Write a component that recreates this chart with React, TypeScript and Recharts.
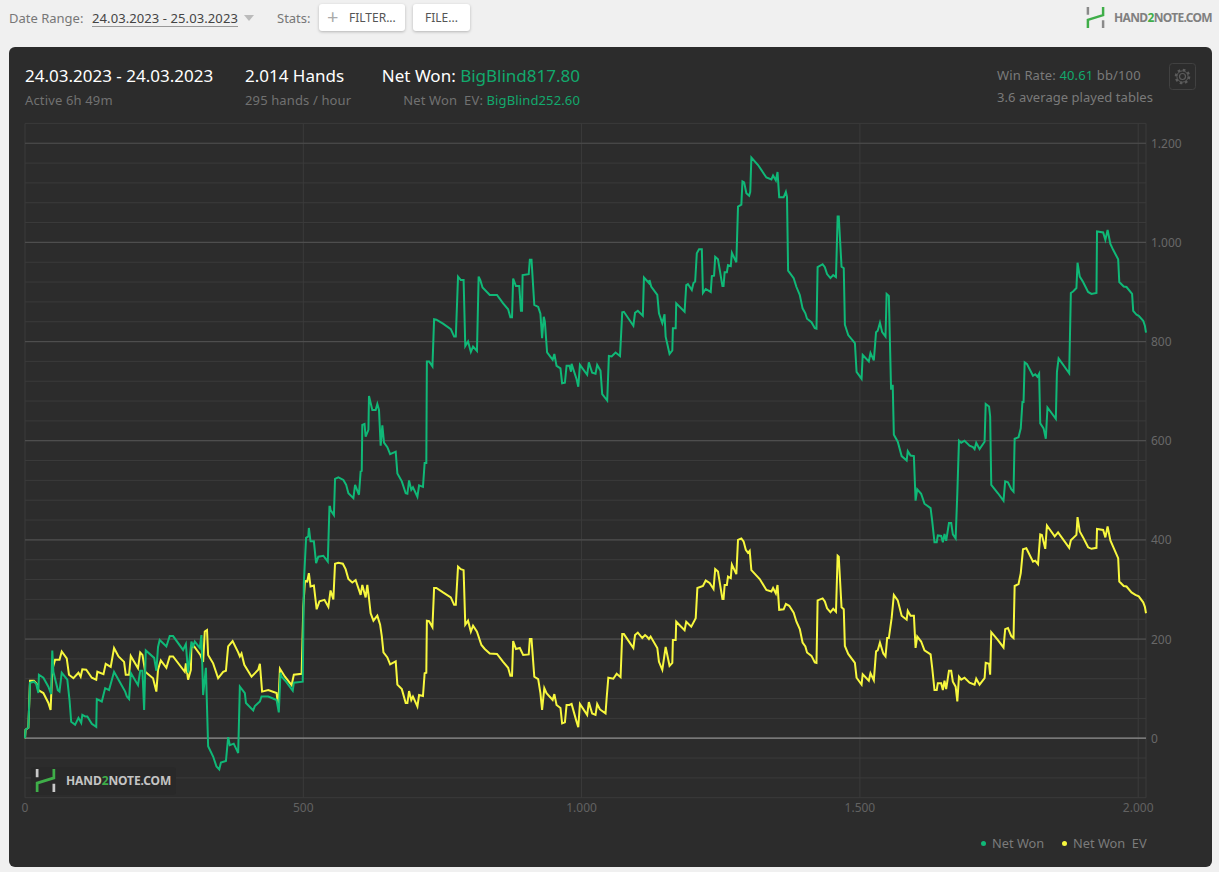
import React from "react";
import { LineChart, Line, XAxis, YAxis, CartesianGrid, ReferenceLine, Legend } from "recharts";

const netWonPoints: number[][] = [
[0,0],[1,17],[6,21],[9,112],[16,114],[20,110],[24,91],[25,128],[33,122],[42,104],[47,89],[49,177],[51,134],[59,97],[62,94],[66,132],[76,118],[80,77],[83,33],[90,27],[96,41],[101,31],[103,47],[108,44],[112,44],[120,29],[128,23],[129,79],[138,74],[144,101],[151,97],[160,134],[168,118],[180,94],[183,84],[187,79],[190,132],[203,107],[207,136],[211,136],[214,57],[217,177],[232,162],[236,136],[239,184],[242,198],[254,185],[260,206],[266,206],[284,178],[289,190],[293,132],[299,195],[302,185],[305,195],[314,182],[317,208],[320,87],[325,142],[329,-16],[338,-37],[344,-57],[349,-63],[352,-49],[361,-46],[365,2],[368,-14],[375,-11],[383,-30],[386,104],[395,91],[397,71],[410,56],[413,65],[422,74],[425,84],[437,84],[452,77],[456,52],[459,132],[461,124],[469,114],[481,96],[483,112],[499,114],[501,313],[505,404],[509,407],[510,424],[513,397],[519,397],[523,353],[527,366],[536,368],[544,356],[547,467],[548,467],[549,460],[555,450],[557,523],[563,526],[572,521],[577,511],[581,494],[590,484],[593,511],[600,491],[603,538],[605,539],[606,632],[610,634],[612,608],[617,622],[618,690],[624,662],[630,662],[633,674],[636,662],[639,590],[642,631],[645,596],[651,587],[656,573],[666,578],[669,534],[677,518],[684,494],[687,493],[690,520],[694,501],[697,506],[705,487],[708,510],[715,507],[718,555],[721,555],[722,760],[726,760],[732,750],[735,845],[739,844],[751,836],[765,825],[771,810],[774,810],[778,931],[783,924],[788,924],[791,791],[796,800],[801,779],[805,790],[812,781],[815,931],[818,924],[822,909],[835,894],[848,894],[859,877],[868,865],[872,849],[875,849],[877,927],[882,912],[888,912],[891,862],[893,862],[894,934],[905,936],[907,965],[910,965],[915,874],[922,870],[926,856],[929,807],[932,850],[934,840],[938,778],[948,763],[951,775],[955,751],[962,746],[965,716],[970,717],[973,751],[978,751],[981,739],[982,755],[991,724],[994,709],[997,753],[1010,733],[1013,758],[1019,737],[1025,735],[1028,753],[1034,741],[1037,694],[1046,681],[1049,771],[1054,770],[1061,778],[1069,771],[1073,859],[1076,860],[1093,832],[1096,858],[1101,862],[1110,852],[1112,929],[1121,918],[1122,924],[1125,911],[1136,894],[1139,857],[1145,837],[1149,855],[1151,810],[1158,775],[1163,782],[1164,827],[1169,827],[1170,877],[1185,860],[1188,914],[1191,916],[1198,904],[1201,918],[1204,921],[1207,978],[1211,986],[1216,986],[1218,898],[1223,906],[1232,900],[1234,932],[1238,933],[1240,971],[1245,966],[1253,912],[1255,912],[1257,940],[1261,940],[1263,954],[1268,952],[1270,979],[1278,960],[1281,1072],[1287,1076],[1289,1123],[1292,1121],[1296,1099],[1301,1094],[1303,1102],[1305,1171],[1317,1156],[1332,1131],[1341,1127],[1344,1135],[1349,1125],[1352,1142],[1355,1091],[1363,1091],[1367,1102],[1369,1092],[1371,943],[1381,928],[1386,910],[1392,894],[1397,867],[1402,857],[1405,846],[1413,839],[1419,827],[1422,826],[1424,950],[1433,956],[1437,950],[1441,936],[1447,928],[1452,934],[1457,930],[1460,1052],[1462,1052],[1467,951],[1471,948],[1473,834],[1479,813],[1491,797],[1494,739],[1503,725],[1505,773],[1516,760],[1519,777],[1525,762],[1529,819],[1532,822],[1536,838],[1540,819],[1546,810],[1548,896],[1552,892],[1556,703],[1557,711],[1559,711],[1561,612],[1568,598],[1575,569],[1584,560],[1586,579],[1591,570],[1597,569],[1600,479],[1603,502],[1610,493],[1616,473],[1627,464],[1630,437],[1634,395],[1638,395],[1640,409],[1646,408],[1649,395],[1652,412],[1655,398],[1660,434],[1664,434],[1667,411],[1672,403],[1675,494],[1678,600],[1682,596],[1688,600],[1697,590],[1703,587],[1706,583],[1709,596],[1715,583],[1724,598],[1726,674],[1732,669],[1734,649],[1736,511],[1748,494],[1758,479],[1761,518],[1766,516],[1772,502],[1776,497],[1778,604],[1785,607],[1789,625],[1792,678],[1794,678],[1796,758],[1800,755],[1811,731],[1815,734],[1819,729],[1822,735],[1824,635],[1830,625],[1834,604],[1837,667],[1852,644],[1854,739],[1857,766],[1876,736],[1879,898],[1883,901],[1889,908],[1891,959],[1895,931],[1901,920],[1910,900],[1916,896],[1925,898],[1926,1022],[1937,1020],[1941,1005],[1945,1025],[1950,997],[1955,985],[1964,966],[1966,920],[1974,911],[1979,910],[1989,896],[1991,862],[1997,854],[2001,852],[2009,842],[2012,832],[2014,818]
];

const netWonEvPoints: number[][] = [
[0,0],[1,17],[6,21],[9,116],[16,116],[21,110],[24,97],[33,91],[42,71],[46,57],[49,138],[54,158],[62,158],[66,175],[75,161],[79,128],[87,121],[96,132],[100,124],[103,139],[110,138],[120,122],[128,118],[130,134],[141,129],[145,150],[154,144],[160,182],[168,165],[178,154],[181,128],[187,128],[190,166],[203,141],[207,173],[211,168],[216,134],[230,121],[236,94],[239,138],[244,157],[254,142],[260,165],[266,165],[287,134],[289,151],[293,118],[298,138],[299,185],[304,185],[315,168],[320,154],[323,215],[327,218],[329,168],[338,151],[347,121],[356,134],[361,136],[365,185],[373,196],[383,173],[386,165],[389,171],[394,148],[407,124],[419,138],[422,150],[426,94],[437,97],[452,91],[455,64],[458,140],[467,124],[479,107],[483,128],[497,130],[500,265],[503,317],[507,316],[510,333],[513,306],[519,308],[524,260],[529,276],[538,279],[545,265],[549,298],[554,280],[557,352],[563,354],[571,352],[576,341],[581,321],[588,314],[594,319],[603,289],[606,309],[612,284],[615,309],[618,282],[621,252],[626,237],[633,247],[638,229],[641,206],[644,173],[651,163],[656,149],[666,155],[669,108],[677,99],[684,71],[687,71],[690,95],[694,77],[697,84],[705,64],[708,87],[715,85],[718,131],[721,132],[722,237],[726,236],[732,224],[735,303],[739,303],[751,294],[765,284],[771,269],[774,269],[778,346],[783,341],[788,339],[791,229],[796,237],[801,215],[805,227],[812,215],[820,188],[826,180],[835,171],[848,170],[859,154],[868,142],[872,126],[875,126],[877,196],[882,180],[889,182],[895,168],[905,169],[907,200],[910,200],[915,124],[922,119],[926,91],[929,57],[933,101],[937,91],[948,77],[951,89],[955,67],[962,61],[965,30],[970,32],[973,67],[978,67],[982,69],[990,37],[994,22],[997,69],[1010,47],[1013,73],[1019,50],[1025,47],[1028,69],[1033,58],[1043,50],[1045,81],[1048,122],[1057,120],[1063,130],[1070,123],[1073,210],[1076,210],[1093,182],[1096,208],[1101,213],[1109,202],[1114,208],[1118,204],[1121,200],[1124,205],[1136,182],[1139,154],[1145,138],[1151,184],[1158,146],[1163,152],[1164,198],[1169,198],[1170,235],[1185,218],[1188,235],[1197,225],[1205,242],[1208,303],[1218,307],[1223,318],[1230,313],[1237,301],[1240,341],[1245,336],[1253,281],[1255,281],[1257,309],[1261,309],[1263,326],[1268,323],[1270,350],[1278,331],[1281,400],[1287,403],[1291,397],[1295,380],[1299,374],[1302,378],[1305,339],[1320,321],[1332,299],[1341,296],[1344,303],[1349,292],[1352,309],[1355,259],[1363,260],[1367,271],[1373,267],[1381,253],[1386,235],[1392,220],[1397,193],[1402,185],[1405,173],[1413,166],[1419,153],[1422,152],[1424,278],[1433,282],[1437,276],[1441,262],[1447,254],[1452,261],[1457,255],[1460,368],[1462,366],[1467,264],[1471,260],[1473,186],[1479,170],[1491,152],[1494,122],[1503,108],[1505,129],[1516,116],[1519,131],[1525,117],[1529,175],[1532,177],[1536,193],[1542,171],[1546,165],[1549,202],[1552,202],[1557,242],[1561,289],[1568,278],[1575,247],[1584,239],[1586,257],[1591,247],[1597,247],[1600,182],[1603,205],[1610,195],[1616,177],[1627,169],[1630,141],[1634,97],[1638,97],[1640,111],[1646,111],[1649,97],[1652,116],[1655,99],[1660,136],[1664,136],[1667,114],[1672,104],[1675,74],[1678,124],[1682,118],[1688,122],[1697,112],[1706,108],[1709,120],[1715,108],[1724,121],[1726,152],[1732,150],[1734,128],[1736,214],[1748,198],[1758,183],[1761,220],[1766,222],[1772,206],[1776,202],[1778,307],[1785,311],[1789,333],[1793,381],[1799,383],[1811,356],[1815,358],[1820,351],[1824,411],[1827,410],[1833,382],[1836,429],[1850,407],[1856,415],[1876,384],[1879,399],[1889,410],[1891,446],[1895,417],[1901,405],[1910,385],[1916,382],[1925,384],[1926,422],[1937,420],[1941,405],[1945,427],[1950,399],[1964,363],[1966,316],[1974,307],[1979,306],[1988,294],[1995,289],[2001,286],[2009,274],[2012,265],[2014,252]
];

const xTicks = [0, 500, 1000, 1500, 2000, 2014];
const yTicks = [-120,-80,-40,0,40,80,120,160,200,240,280,320,360,400,440,480,520,560,600,640,680,720,760,800,840,880,920,960,1000,1040,1080,1120,1160,1200,1240];
const yMajor = [200, 400, 600, 800, 1000, 1200];

const GREEN = "#10b877";
const YELLOW = "#f7f73e";
const TEXT_GREEN = "#12a96c";
const FONT = "'Noto Sans', sans-serif";

const toRows = (pts: number[][]) => pts.map(([hand, value]) => ({ hand, value }));
const fmt = (n: number) => String(n).replace(/\B(?=(\d{3})+(?!\d))/g, ".");

const XTick = (p: any) => {
  if (p.payload.value === 2014) return <g />;
  return (
    <text x={p.x} y={812} textAnchor="middle" fontSize={12} fill="#626262" fontFamily={FONT}>
      {fmt(p.payload.value)}
    </text>
  );
};
const YTick = (p: any) => {
  const v = p.payload.value;
  if (v % 200 !== 0 || v < 0) return <g />;
  return (
    <text x={1151} y={p.y + 4.5} textAnchor="start" fontSize={12} fill="#686868" fontFamily={FONT}>
      {fmt(v)}
    </text>
  );
};

const T = ({ x, y, s, c, right, bold, children, sp }: any) => (
  <div
    style={{
      position: "absolute",
      top: y,
      ...(right !== undefined ? { right: 1219 - right } : { left: x }),
      fontSize: s,
      lineHeight: "20px",
      color: c,
      whiteSpace: "pre",
      fontWeight: bold ? 700 : 400,
      letterSpacing: sp ?? 0,
    }}
  >
    {children}
  </div>
);

const Logo = ({ x, y, w, h, bar }: any) => (
  <svg style={{ position: "absolute", left: x, top: y }} width={w} height={h} viewBox="0 0 20 22">
    <path d="M2 0V8M18 14V22" stroke={bar} strokeWidth="2.6" fill="none" />
    <path d="M2 22V13.5L18 8.5V0" stroke="#3fae49" strokeWidth="2.6" fill="none" />
  </svg>
);

const LogoWord = ({ x, y, s, c, sp }: any) => (
  <T x={x} y={y} s={s} c={c} bold sp={sp}>
    HAND<span style={{ color: "#3fae49" }}>2</span>NOTE.COM
  </T>
);

const Btn = ({ x, w, children }: any) => (
  <div
    style={{
      position: "absolute",
      left: x,
      top: 4,
      width: w,
      height: 27,
      background: "#fff",
      borderRadius: 3,
      boxShadow: "0 1px 3px rgba(0,0,0,0.25)",
    }}
  >
    {children}
  </div>
);

const LegendContent = ({ payload }: any) => (
  <div style={{ position: "relative", width: 180, height: 20, fontFamily: FONT }}>
    {(payload || []).map((e: any, i: number) => (
      <div key={e.value} style={{ position: "absolute", left: i === 0 ? 0 : 81, top: 0, whiteSpace: "pre", fontSize: 12.8, lineHeight: "20px", color: "#7b7b7b" }}>
        <span style={{ display: "inline-block", width: 5, height: 5, borderRadius: 3, background: e.color, marginRight: 6, verticalAlign: 2 }} />
        {e.value}
      </div>
    ))}
  </div>
);

export default function App() {
  return (
    <div style={{ position: "absolute", left: 0, top: 0, width: 1219, height: 872, background: "#f0f0f0", overflow: "hidden", fontFamily: FONT }}>
      <T x={9} y={8} s={13} c="#777">Date Range:</T>
      <T x={92} y={8} s={13} c="#444" sp={0.09}>24.03.2023 - 25.03.2023</T>
      <div style={{ position: "absolute", left: 92, top: 26, width: 146, height: 1, background: "#999" }} />
      <svg style={{ position: "absolute", left: 244, top: 15 }} width="10" height="6"><path d="M0 0H10L5 6Z" fill="#bbb" /></svg>
      <T x={277} y={8} s={13} c="#777">Stats:</T>
      <Btn x={319} w={86}>
        <T x={8} y={3} s={20} c="#aaa">+</T>
        <T x={30} y={4} s={12} c="#555">FILTER...</T>
      </Btn>
      <Btn x={413} w={57}>
        <T x={12} y={4} s={12} c="#555">FILE...</T>
      </Btn>
      <Logo x={1086} y={7} w={19} h={21} bar="#8a8a8a" />
      <LogoWord x={1114} y={8} s={12} c="#808080" sp={-0.65} />

      <div style={{ position: "absolute", left: 9, top: 47, width: 1203, height: 820, background: "#2c2c2c", borderRadius: 6 }} />

      <T x={25} y={66} s={17} c="#ffffff">24.03.2023 - 24.03.2023</T>
      <T x={25} y={90} s={13} c="#717171" sp={0.15}>Active 6h 49m</T>
      <T x={245} y={66} s={17} c="#ffffff">2.014 Hands</T>
      <T x={245} y={90} s={13} c="#717171" sp={0.13}>295 hands / hour</T>
      <T right={580} y={66} s={17} c="#ffffff">Net Won: <span style={{ color: TEXT_GREEN }}>BigBlind817.80</span></T>
      <T right={580} y={90} s={13} c="#717171" sp={0.13}>Net Won  EV: <span style={{ color: TEXT_GREEN }}>BigBlind252.60</span></T>
      <T x={997} y={65} s={13} c="#7a7a7a" sp={0.13}>Win Rate: <span style={{ color: TEXT_GREEN }}>40.61</span> bb/100</T>
      <T x={997} y={87} s={13} c="#7a7a7a" sp={0.04}>3.6 average played tables</T>

      <svg style={{ position: "absolute", left: 1169, top: 63 }} width="27" height="27" viewBox="0 0 27 27">
        <rect x="0.5" y="0.5" width="26" height="26" rx="3" fill="none" stroke="#414141" />
        <circle cx="13.5" cy="13.5" r="3" fill="none" stroke="#5c5c5c" strokeWidth="1.2" />
        <circle cx="13.5" cy="13.5" r="6.6" fill="none" stroke="#5c5c5c" strokeWidth="2.4" strokeDasharray="2.6 2.6" />
        <circle cx="13.5" cy="13.5" r="5.6" fill="none" stroke="#5c5c5c" strokeWidth="1" />
      </svg>

      <div style={{ position: "absolute", left: 0, top: 0 }}>
        <LineChart width={1219} height={872} margin={{ left: 25, top: 123.4, right: 13, bottom: 44.3 }}>
          <CartesianGrid stroke="#3b3b3b" strokeWidth={1} horizontalValues={yTicks} verticalValues={xTicks} />
          <XAxis
            dataKey="hand"
            type="number"
            domain={[0, 2014]}
            ticks={xTicks}
            interval={0}
            height={30}
            axisLine={false}
            tickLine={false}
            tick={XTick}
          />
          <YAxis
            orientation="right"
            type="number"
            domain={[-120, 1240]}
            ticks={yTicks}
            interval={0}
            width={60}
            axisLine={false}
            tickLine={false}
            tick={YTick}
          />
          {yMajor.map((v) => (
            <ReferenceLine key={v} y={v} stroke="#4e4e4e" strokeWidth={1.2} />
          ))}
          <ReferenceLine y={0} stroke="#8f8f8f" strokeWidth={1.2} />
          <Line data={toRows(netWonEvPoints)} dataKey="value" name="Net Won  EV" stroke={YELLOW} strokeWidth={2} dot={false} activeDot={false} type="linear" isAnimationActive={false} legendType="circle" />
          <Line data={toRows(netWonPoints)} dataKey="value" name="Net Won" stroke={GREEN} strokeWidth={2} dot={false} activeDot={false} type="linear" isAnimationActive={false} legendType="circle" />
          <Legend
            layout="horizontal"
            verticalAlign="middle"
            align="center"
            itemSorter={(item: any) => (item.value === "Net Won" ? 0 : 1)}
            content={LegendContent}
            wrapperStyle={{ position: "absolute", left: 981, top: 833, width: 180, height: 20 }}
          />
        </LineChart>
      </div>

      <div style={{ position: "absolute", left: 31, top: 767, width: 145, height: 28, background: "#292929", borderRadius: 3 }} />
      <Logo x={35} y={769} w={21} h={23} bar="#c9c9c9" />
      <LogoWord x={66} y={771} s={12} c="#c4c4c4" sp={-0.1} />
    </div>
  );
}
